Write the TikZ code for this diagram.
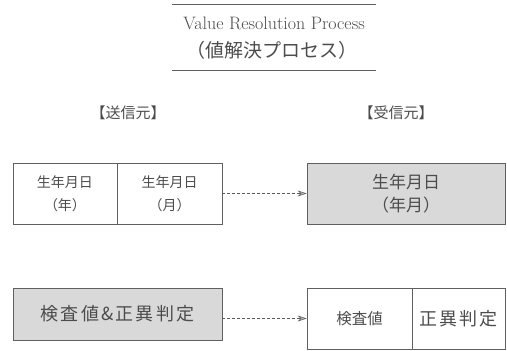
\documentclass[tikz,border=0pt]{standalone}
\usepackage{fontspec}
\newfontfamily\jp{Noto Sans CJK JP}
\newfontfamily\jpw[LetterSpace=12]{Noto Sans CJK JP}
\usetikzlibrary{arrows.meta}
\tikzset{
  cell/.style={draw=gray!75!black, line width=0.6pt, inner sep=0pt, align=center, font=\jp\fontsize{14}{23}\selectfont, text=gray!60!black},
  shaded/.style={cell, fill=gray!30},
  lbl/.style={font=\jp\fontsize{15}{17}\selectfont, text=gray!60!black},
  ttl/.style={inner sep=0pt, text=gray!60!black},
  arr/.style={draw=gray!70!black, densely dashed, line width=0.5pt, -{Stealth[length=9pt,width=6pt,fill=gray!60]}},
  rule/.style={draw=gray!75!black, line width=0.7pt}
}
\begin{document}
\begin{tikzpicture}[x=1pt,y=-1pt]
\useasboundingbox (0,0) rectangle (507,351);
% title frame
\node (title) [inner sep=0pt, minimum width=204pt, minimum height=65pt] at (274,37.5) {};
\draw[rule] (title.north west) -- (title.north east);
\draw[rule] (title.south west) -- (title.south east);
\node (t1) [ttl, font=\fontsize{18}{20}\selectfont] at (274,23) {Value Resolution Process};
\node (t2) [ttl, font=\jp\fontsize{19}{21}\selectfont] at (272,50) {（値解決プロセス）};
% labels
\node (lsend) [lbl] at (128,113) {【送信元】};
\node (lrecv) [lbl] at (396,113) {【受信元】};
% sender cells
\node (s1) [cell, minimum width=104pt, minimum height=61pt] at (65,193.5) {生年月日\\（年）};
\node (s2) [cell, minimum width=105pt, minimum height=61pt] at (169.5,193.5) {生年月日\\（月）};
% receiver
\node (r) [shaded, minimum width=198pt, minimum height=61pt, font=\jp\fontsize{17}{23}\selectfont] at (406,193.5) {生年月日\\（年月）};
\draw[arr] (s2.east) -- (r.west);
% bottom row
\node (bl) [shaded, minimum width=209pt, minimum height=52pt, font=\jpw\fontsize{18}{20}\selectfont] at (117.5,314) {検査値\&正異判定};
\node (b1) [cell, minimum width=105pt, minimum height=61pt, font=\jp\fontsize{15.5}{20}\selectfont] at (359.5,318.5) {検査値};
\node (b2) [cell, minimum width=93pt, minimum height=61pt, font=\jpw\fontsize{18}{20}\selectfont] at (458.5,318.5) {正異判定};
\draw[arr] (bl.east |- b1.west) -- (b1.west);
\end{tikzpicture}
\end{document}
